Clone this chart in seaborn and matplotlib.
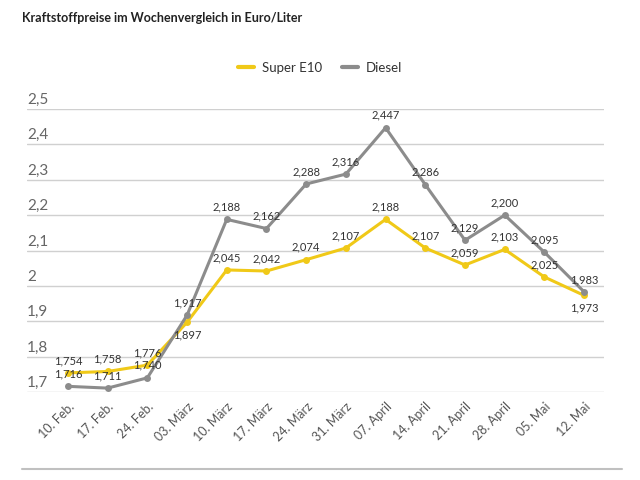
import pandas as pd
import seaborn as sns
import matplotlib.pyplot as plt
from matplotlib.lines import Line2D
import matplotlib.transforms as mtransforms

weeks = ["10. Feb.", "17. Feb.", "24. Feb.", "03. März", "10. März", "17. März", "24. März",
         "31. März", "07. April", "14. April", "21. April", "28. April", "05. Mai", "12. Mai"]
super_e10 = [1.754, 1.758, 1.776, 1.897, 2.045, 2.042, 2.074, 2.107, 2.188, 2.107, 2.059, 2.103, 2.025, 1.973]
diesel = [1.716, 1.711, 1.740, 1.917, 2.188, 2.162, 2.288, 2.316, 2.447, 2.286, 2.129, 2.200, 2.095, 1.983]
y_ticks = [1.7, 1.8, 1.9, 2.0, 2.1, 2.2, 2.3, 2.4, 2.5]
# label placement: 1 above, -1 below
e10_pos = [1, 1, 1, -1, 1, 1, 1, 1, 1, 1, 1, 1, 1, -1]
diesel_pos = [1] * 14

df = pd.DataFrame({
    "woche": list(range(len(weeks))) * 2,
    "preis": super_e10 + diesel,
    "sorte": ["Super E10"] * len(weeks) + ["Diesel"] * len(weeks),
})

sns.set_style("white")
plt.rcParams['font.family'] = ['Lato', 'DejaVu Sans']

yellow = "#f0c918"
grey = "#8c8c8c"

fig = plt.figure(figsize=(6.4, 4.8), dpi=100)
ax = fig.add_axes([27 / 640, 1 - 392 / 480, (604 - 27) / 640, (392 - 109) / 480])

sns.lineplot(data=df, x="woche", y="preis", hue="sorte",
             palette={"Super E10": yellow, "Diesel": grey},
             marker="o", markersize=5, markeredgewidth=0, linewidth=2.2,
             ax=ax, clip_on=False, legend=False)

ax.set_xlim(-1.03, 13.5)
ax.set_ylim(1.7, 2.5)
ax.set_yticks(y_ticks)
ax.set_yticklabels([])
ax.tick_params(axis="y", length=0)
ax.grid(axis="y", color="#d0d0d0", linewidth=1)
ax.set_axisbelow(True)
for s in ax.spines.values():
    s.set_visible(False)

ax.set_xticks(range(len(weeks)))
ax.set_xticklabels(weeks, rotation=45, ha="right", rotation_mode="anchor",
                   fontsize=9, color="#555555")
ax.tick_params(axis="x", length=0, pad=6)
ax.set_xlabel("")
ax.set_ylabel("")

# y labels sitting above gridlines
trans = mtransforms.blended_transform_factory(ax.transAxes, ax.transData)
for v in y_ticks:
    ax.text(0, v, f"{v:g}".replace(".", ","), transform=trans + mtransforms.ScaledTranslation(0, 1.5 / 72, fig.dpi_scale_trans),
            ha="left", va="bottom", fontsize=11, color="#666666")

def label(vals, pos):
    for i, (v, p) in enumerate(zip(vals, pos)):
        ax.annotate(f"{v:.3f}".replace(".", ","), (i, v), xytext=(0, 5 * p),
                    textcoords="offset points", ha="center",
                    va="bottom" if p > 0 else "top", fontsize=8, color="#333333")

label(super_e10, e10_pos)
label(diesel, diesel_pos)

handles = [Line2D([], [], color=yellow, linewidth=3), Line2D([], [], color=grey, linewidth=3)]
fig.legend(handles, ["Super E10", "Diesel"], loc="center", bbox_to_anchor=(0.5, 1 - 68 / 480),
           ncol=2, frameon=False, handlelength=1.2, fontsize=9.5, columnspacing=1.5,
           handletextpad=0.6, labelcolor="#333333")

fig.text(22 / 640, 1 - 18 / 480, "Kraftstoffpreise im Wochenvergleich in Euro/Liter",
         ha="left", va="center", fontsize=9, fontweight="bold", color="#222222")

fig.add_artist(Line2D([22 / 640, 622 / 640], [1 - 469 / 480] * 2, color="#c0c0c0", linewidth=1.5))

fig.savefig("out.png", dpi=100)
